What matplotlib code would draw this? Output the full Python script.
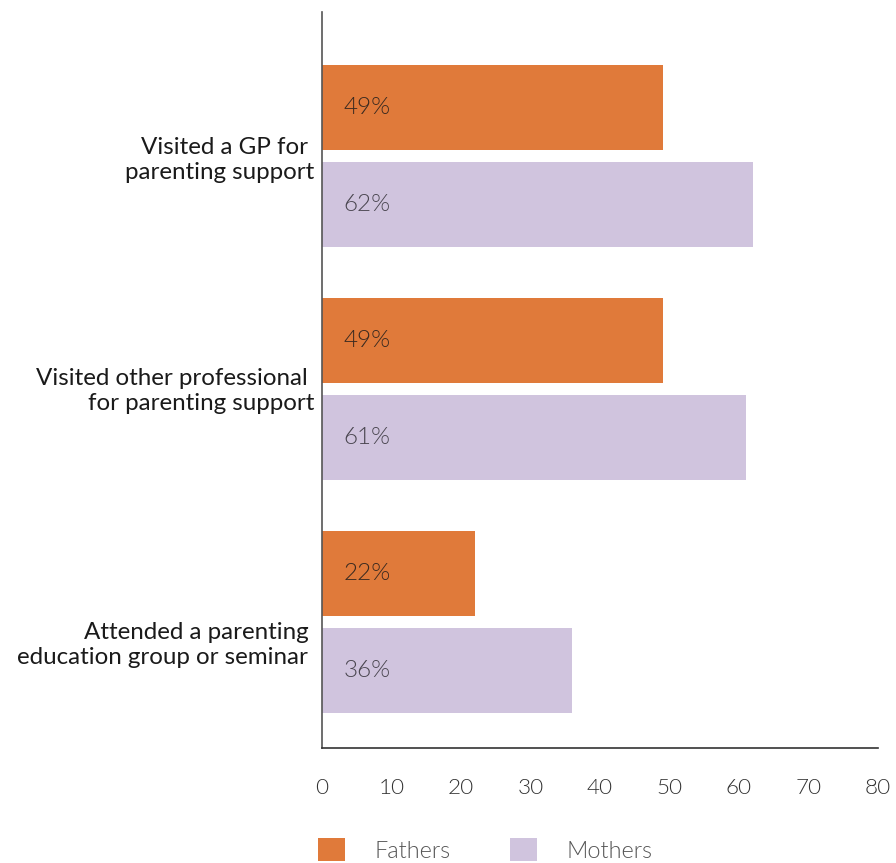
import matplotlib
matplotlib.use("Agg")
import matplotlib.pyplot as plt
from matplotlib.patches import Patch
import numpy as np

categories = ["Visited a GP for \nparenting support",
              "Visited other professional \nfor parenting support",
              "Attended a parenting \neducation group or seminar "]
fathers = [49, 49, 22]
mothers = [62, 61, 36]
series_names = ["Fathers", "Mothers"]
xticks = [0, 10, 20, 30, 40, 50, 60, 70, 80]

orange = "#E07A3A"
lavender = "#D0C4DE"

plt.rcParams['font.family'] = ['Lato', 'DejaVu Sans']
LIGHT = 300

fig = plt.figure(figsize=(8.96, 8.63), dpi=100)
ax = fig.add_axes([322/896, (863-748)/863, (878-322)/896, (748-12)/863])

# layout in pixel-like units (y inverted)
first, spacing, off, h = 156, 233, 48.5, 85
centers = first + spacing * np.arange(len(categories))
label_shift = [4, 2, 23]

ax.barh(centers - off, fathers, height=h, color=orange, label=series_names[0])
ax.barh(centers + off, mothers, height=h, color=lavender, label=series_names[1])
ax.set_ylim(748, 12)
ax.set_xlim(0, 80)

for c, fv, mv in zip(centers, fathers, mothers):
    ax.text(3.1, c - off, f"{fv}%", va="center", ha="left", fontsize=17.5,
            fontweight=LIGHT, color="#3a2a20")
    ax.text(3.1, c + off, f"{mv}%", va="center", ha="left", fontsize=17.5,
            fontweight=LIGHT, color="#4a4650")

for c, lab, s in zip(centers, categories, label_shift):
    ax.text(-1.1, c + s, lab, ha="right", va="center", multialignment="right",
            fontsize=17.4, color="#1a1a1a", linespacing=1.28)

ax.set_yticks([])
ax.set_xticks(xticks)
ax.set_xticklabels([str(t) for t in xticks], fontsize=16.2, fontweight=LIGHT, color="#333333")
ax.tick_params(axis="x", length=0, pad=21.5)
for s in ["top", "right"]:
    ax.spines[s].set_visible(False)
ax.spines["left"].set_color("#555555")
ax.spines["bottom"].set_color("#333333")
ax.spines["left"].set_linewidth(1.2)
ax.spines["bottom"].set_linewidth(1.2)

handles = [Patch(facecolor=orange, edgecolor="none"), Patch(facecolor=lavender, edgecolor="none")]
leg = fig.legend(handles, series_names, loc="lower left", bbox_to_anchor=(317/896, 0.0),
                 ncol=2, frameon=False, fontsize=16.9, handlelength=1.14, handleheight=1.14,
                 handletextpad=1.28, columnspacing=2.5, borderpad=0.05, borderaxespad=0)
for t in leg.get_texts():
    t.set_color("#555555")
    t.set_fontweight(LIGHT)

fig.savefig("out.png", dpi=100)
